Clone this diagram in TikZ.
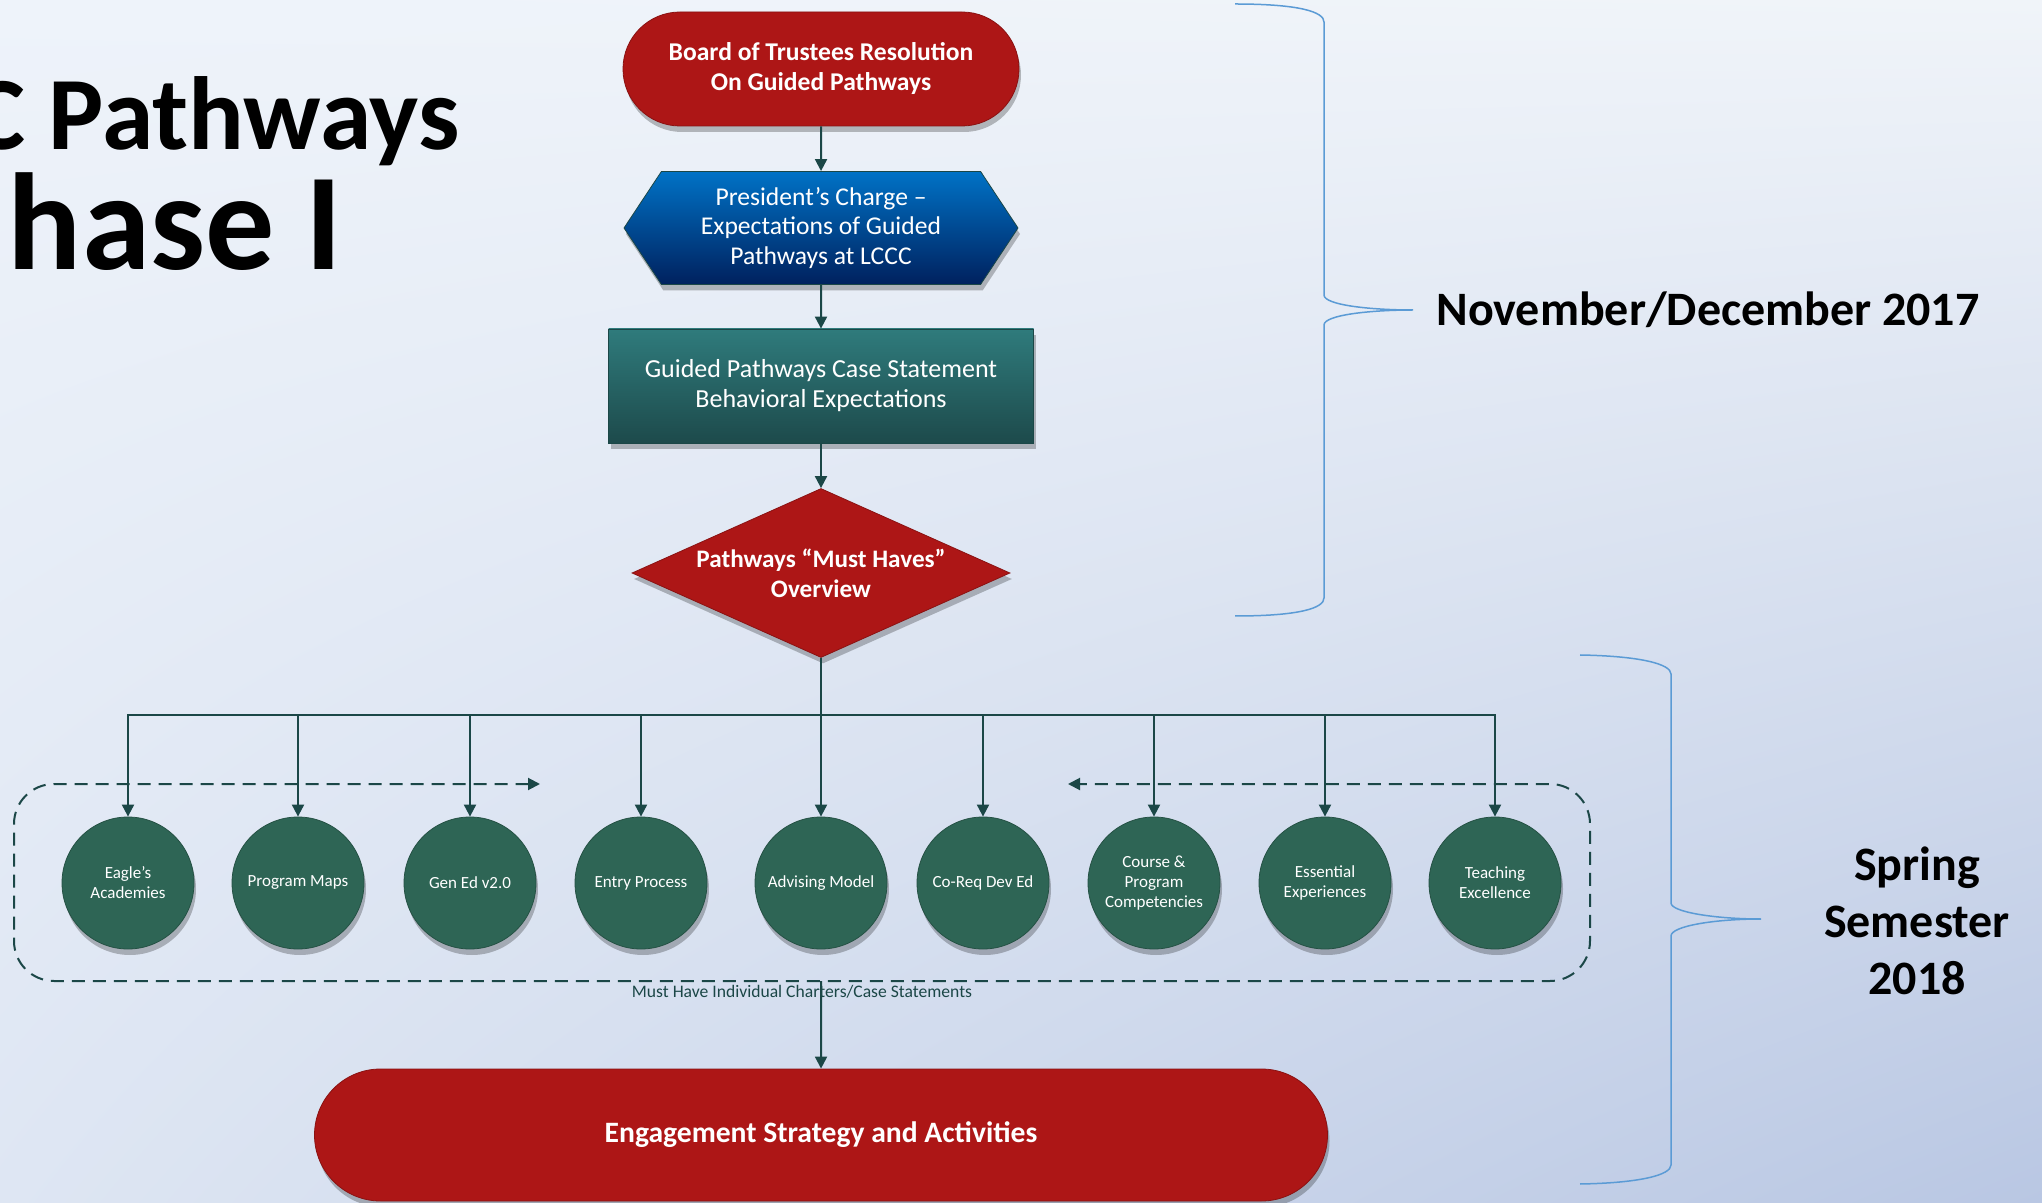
\documentclass[tikz,border=0pt]{standalone}
\usepackage{fontspec}
\setmainfont{Carlito}
\usepackage{tikz}
\usetikzlibrary{positioning,calc}
\usetikzlibrary{shapes.geometric,shapes.misc,shapes.symbols,arrows.meta,shadows,shadings}
\definecolor{pathred}{HTML}{AD1616}
\definecolor{hextop}{HTML}{0072C6}
\definecolor{hexbot}{HTML}{00215E}
\definecolor{casetop}{HTML}{2F7B7C}
\definecolor{casebot}{HTML}{1D4A4B}
\definecolor{havegreen}{HTML}{2E6555}
\definecolor{linecol}{HTML}{1B4747}
\definecolor{bracecol}{HTML}{5B9BD5}
\definecolor{bgul}{HTML}{EEF3FA}
\definecolor{bgur}{HTML}{F0F4F9}
\definecolor{bgll}{HTML}{DEE6F3}
\definecolor{bglr}{HTML}{B9C7E3}
\tikzstyle{softshadow} = [drop shadow={shadow xshift=1pt, shadow yshift=-3pt, opacity=0.25, fill=black}]
\tikzstyle{pill} = [rounded rectangle, fill=pathred, draw=pathred!80!black, text=white, align=center, inner sep=0pt, softshadow]
\tikzstyle{hexa} = [signal, signal to=west and east, signal pointer angle=113, top color=hextop, bottom color=hexbot, draw=linecol, text=white, align=center, inner sep=0pt, minimum width=197pt, minimum height=56.5pt, font=\fontsize{12.8}{14.8}\selectfont, softshadow]
\tikzstyle{casebox} = [rectangle, top color=casetop, bottom color=casebot, draw=linecol, text=white, align=center, minimum width=212.5pt, minimum height=57pt, font=\fontsize{13}{15}\selectfont, softshadow]
\tikzstyle{mustdia} = [diamond, fill=pathred, draw=pathred!80!black, text=white, align=center, inner sep=0pt, aspect=2.24, minimum width=189pt, minimum height=84.5pt, font=\bfseries\fontsize{12.6}{15}\selectfont, softshadow]
\tikzstyle{have} = [circle, fill=havegreen, draw=havegreen!80!black, text=white, align=center, inner sep=0pt, minimum size=66pt, font=\fontsize{8.5}{10}\selectfont, softshadow]
\tikzstyle{arrow} = [line width=1pt, draw=linecol, -{Triangle[length=6pt,width=6pt]}]
\tikzstyle{dashbox} = [line width=1pt, draw=linecol, dash pattern=on 6.5pt off 4pt, rounded corners=20pt, {Triangle[length=6pt,width=6pt]}-{Triangle[length=6pt,width=6pt]}]
\tikzstyle{timebrace} = [line width=0.75pt, draw=bracecol]
\tikzstyle{period} = [text=black, inner sep=0pt, font=\bfseries\fontsize{24}{28.5}\selectfont]
\tikzstyle{bigtitle} = [text=black, inner sep=0pt, anchor=base east]

\begin{document}
\begin{tikzpicture}[x=0.5pt, y=-0.5pt]
\useasboundingbox (0,0) rectangle (2042,1203);
\shade[upper left=bgul, upper right=bgur, lower left=bgll, lower right=bglr] (0,0) rectangle (2042,1203);

% title, cut off at the left edge
\node[bigtitle, font=\bfseries\fontsize{52}{60}\selectfont] (ttlone) at (460,150) {C Pathways};
\node[bigtitle, font=\bfseries\fontsize{69}{80}\selectfont] (ttltwo) at (343,270) {hase I};

% main column
\node[pill, minimum width=198pt, minimum height=57pt, font=\bfseries\fontsize{12.8}{15}\selectfont] (board) at (821,69) {Board of Trustees Resolution\\On Guided Pathways};
\node[hexa] (charge) at (821,228) {President’s Charge –\\Expectations of Guided\\Pathways at LCCC};
\node[casebox] (case) at (821,386) {Guided Pathways Case Statement\\Behavioral Expectations};
\node[mustdia] (must) at (821,573) {Pathways “Must Haves”\\Overview};

\draw[arrow] (board) -- (charge);
\draw[arrow] (charge) -- (case);
\draw[arrow] (case) -- (must);

% the must haves
\node[have] (eagle) at (128,883) {Eagle’s\\Academies};
\node[have] (maps) at (298,883) {Program Maps};
\node[have] (gened) at (470,883) {Gen Ed v2.0};
\node[have] (entry) at (641,883) {Entry Process};
\node[have] (advise) at (821,883) {Advising Model};
\node[have] (coreq) at (983,883) {Co-Req Dev Ed};
\node[have] (compet) at (1154,883) {Course \&\\Program\\Competencies};
\node[have] (essent) at (1325,883) {Essential\\Experiences};
\node[have] (teach) at (1495,883) {Teaching\\Excellence};

\coordinate (bus) at (821,715);
\foreach \c in {eagle,maps,gened,entry,advise,coreq,compet,essent,teach}
  \draw[arrow] (must.south) -- (bus) -| (\c.north);

\coordinate (gapl) at (540,784);
\coordinate (gapr) at (1068,784);
\draw[dashbox] (gapl) -- (14,784) -- (14,981) -- (1590,981) -- (1590,784) -- (gapr);
\node[text=linecol, font=\fontsize{8.8}{10}\selectfont] (charter) at (802,992) {Must Have Individual Charters/Case Statements};

\coordinate (boxbot) at (821,981);
\node[pill, minimum width=506.5pt, minimum height=66pt, font=\bfseries\fontsize{14.8}{17}\selectfont] (engage) at (821,1135) {Engagement Strategy and Activities};
\draw[arrow] (boxbot) -- (engage);

% time braces
\draw[timebrace] (1235,4) .. controls (1300,4) and (1324,12) .. (1324,22) -- (1324,295)
  .. controls (1324,305) and (1370,310) .. (1413,310) .. controls (1370,310) and (1324,315) .. (1324,325)
  -- (1324,598) .. controls (1324,608) and (1300,616) .. (1235,616);
\draw[timebrace] (1580,655) .. controls (1640,656) and (1671,664) .. (1671,674) -- (1671,903)
  .. controls (1671,912) and (1715,919) .. (1761,919) .. controls (1715,919) and (1671,926) .. (1671,936)
  -- (1671,1165) .. controls (1671,1175) and (1640,1183) .. (1580,1184);
\node[period, anchor=west] (novdec) at (1436,310) {November/December 2017};
\node[period, align=center] (spring) at (1917,921) {Spring\\Semester\\2018};
\end{tikzpicture}
\end{document}
